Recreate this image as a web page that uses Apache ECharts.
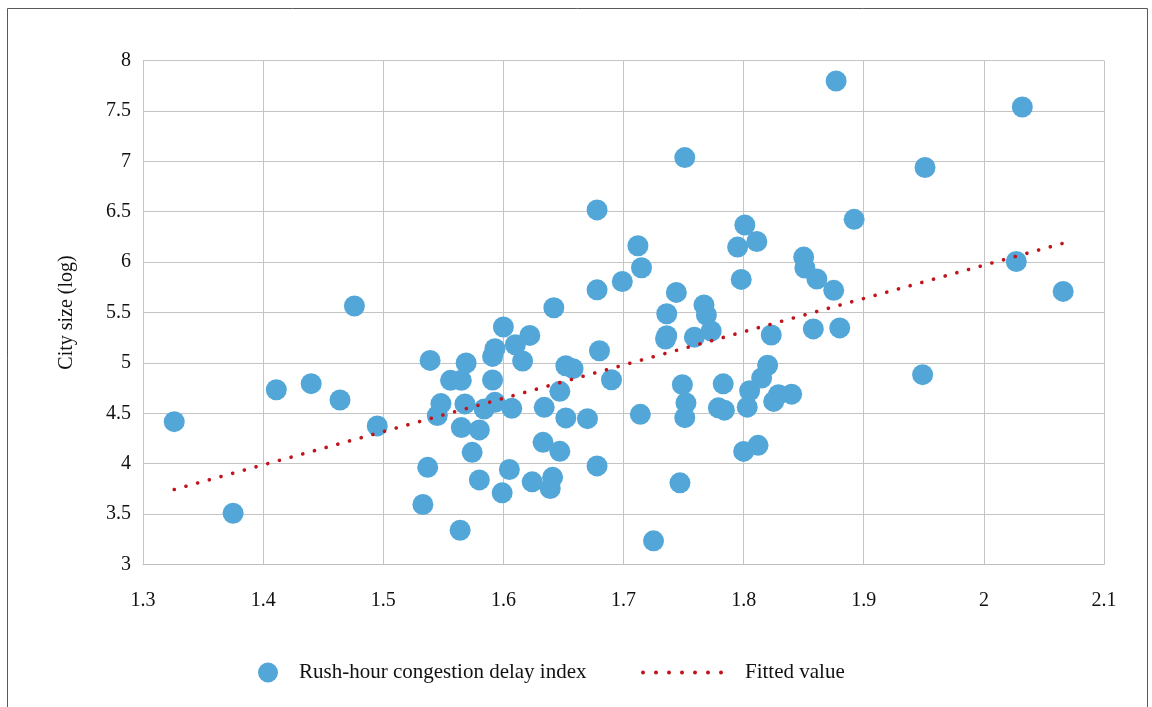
<!DOCTYPE html>
<html>
<head>
<meta charset="utf-8">
<script src="https://cdn.jsdelivr.net/npm/echarts@6/dist/echarts.min.js"></script>
<style>
html,body{margin:0;padding:0;background:#fff;}
#chart{width:1152px;height:707px;}
</style>
</head>
<body>
<div id="chart"></div>
<script>
// Data
const delayIndex = [1.326,1.375,1.411,1.440,1.464,1.476,1.495,1.539,1.548,1.545,1.537,1.533,1.556,1.565,1.569,1.568,1.565,1.564,1.574,1.580,1.580,1.584,1.593,1.591,1.591,1.593,1.600,1.599,1.605,1.607,1.610,1.616,1.622,1.624,1.634,1.633,1.639,1.641,1.642,1.647,1.647,1.652,1.652,1.658,1.670,1.678,1.678,1.678,1.680,1.690,1.699,1.712,1.715,1.714,1.725,1.736,1.736,1.735,1.744,1.747,1.749,1.751,1.752,1.751,1.759,1.767,1.769,1.773,1.779,1.784,1.783,1.795,1.798,1.801,1.800,1.803,1.805,1.811,1.812,1.815,1.820,1.825,1.829,1.840,1.823,1.850,1.851,1.861,1.875,1.877,1.858,1.880,1.892,1.949,1.951,2.027,2.032,2.066];
const citySize = [4.417,3.508,4.734,4.794,4.632,5.564,4.375,5.025,4.596,4.477,3.964,3.595,4.827,4.827,4.999,4.593,4.358,3.340,4.113,4.335,3.839,4.543,4.609,4.830,5.064,5.141,5.356,3.711,3.942,4.549,5.180,5.019,5.273,3.820,4.559,4.212,3.753,3.865,5.547,4.718,4.123,4.454,4.972,4.943,4.447,3.978,6.518,5.725,5.121,4.833,5.808,6.162,5.944,4.490,3.235,5.488,5.270,5.237,5.699,3.810,4.784,7.037,4.603,4.457,5.255,5.575,5.475,5.316,4.554,4.531,4.792,6.149,5.828,6.368,4.122,4.561,4.724,6.204,4.182,4.850,4.977,4.618,4.685,4.690,5.277,6.050,5.941,5.832,5.720,7.797,5.337,5.347,6.424,4.883,6.938,6.006,7.539,5.709];
const fitX = [1.326, 2.067];
const fitY = [3.744, 6.19];
const xTicks = {min: 1.3, max: 2.1, interval: 0.1};
const yTicks = {min: 3, max: 8, interval: 0.5};
const seriesNames = ['Rush-hour congestion delay index', 'Fitted value'];
const yAxisName = 'City size (log)';

const scatterData = delayIndex.map((x, i) => [x, citySize[i]]);
const fitData = fitX.map((x, i) => [x, fitY[i]]);

// legend icon for the dotted fitted line: a row of 7 small dots
function dotRowPath(n, step, r) {
  let p = 'path://';
  for (let i = 0; i < n; i++) {
    const cx = r + i * step;
    p += 'M' + (cx - r) + ',' + r + 'a' + r + ',' + r + ' 0 1,0 ' + (2 * r) + ',0a' + r + ',' + r + ' 0 1,0 ' + (-2 * r) + ',0';
  }
  return p;
}

const serif = "'Liberation Serif','Times New Roman',serif";
const chart = echarts.init(document.getElementById('chart'), null, {renderer: 'canvas'});
chart.setOption({
  backgroundColor: '#fff',
  animation: false,
  graphic: [{
    type: 'rect', silent: true, z: -10,
    shape: {x: 7.5, y: 8.5, width: 1140, height: 740},
    style: {fill: 'none', stroke: '#595959', lineWidth: 1}
  }],
  grid: {left: 143, top: 60.5, right: 48, bottom: 142.5, containLabel: false},
  legend: [{
    data: [seriesNames[0]],
    left: 253, top: 657,
    itemWidth: 20, itemHeight: 20,
    textStyle: {fontFamily: serif, fontSize: 21, color: '#111', padding: [0,0,0,16]},
  }, {
    data: [{name: seriesNames[1], icon: dotRowPath(7, 13, 2)}],
    left: 636, top: 657,
    itemWidth: 82, itemHeight: 4,
    itemStyle: {color: '#c0141c', borderWidth: 0},
    textStyle: {fontFamily: serif, fontSize: 21, color: '#111', padding: [0,0,0,17]},
  }],
  xAxis: {
    type: 'value', min: xTicks.min, max: xTicks.max, interval: xTicks.interval,
    axisLine: {show: true, lineStyle: {color: '#bfbfbf'}},
    axisTick: {show: false},
    splitLine: {show: true, lineStyle: {color: '#c4c4c4', width: 1}},
    axisLabel: {fontFamily: serif, fontSize: 20, color: '#111', margin: 26,
      formatter: v => (Math.round(v * 10) / 10).toString()}
  },
  yAxis: {
    type: 'value', min: yTicks.min, max: yTicks.max, interval: yTicks.interval,
    name: yAxisName, nameLocation: 'middle', nameGap: 66,
    nameTextStyle: {fontFamily: serif, fontSize: 20, color: '#111'},
    axisLine: {show: true, lineStyle: {color: '#c4c4c4'}},
    axisTick: {show: false},
    splitLine: {show: true, lineStyle: {color: '#c4c4c4', width: 1}},
    axisLabel: {fontFamily: serif, fontSize: 20, color: '#111', margin: 12,
      formatter: v => (Math.round(v * 10) / 10).toString()}
  },
  series: [{
    name: seriesNames[0], type: 'scatter', data: scatterData,
    symbol: 'circle', symbolSize: 21, z: 2,
    itemStyle: {color: '#53a7d8', opacity: 1}
  }, {
    name: seriesNames[1], type: 'line', data: fitData,
    showSymbol: false, symbol: 'none', z: 5,
    itemStyle: {color: '#c0141c'},
    lineStyle: {color: '#c0141c', width: 3.6, type: [0.1, 12.02], cap: 'round'}
  }]
});
</script>
</body>
</html>
